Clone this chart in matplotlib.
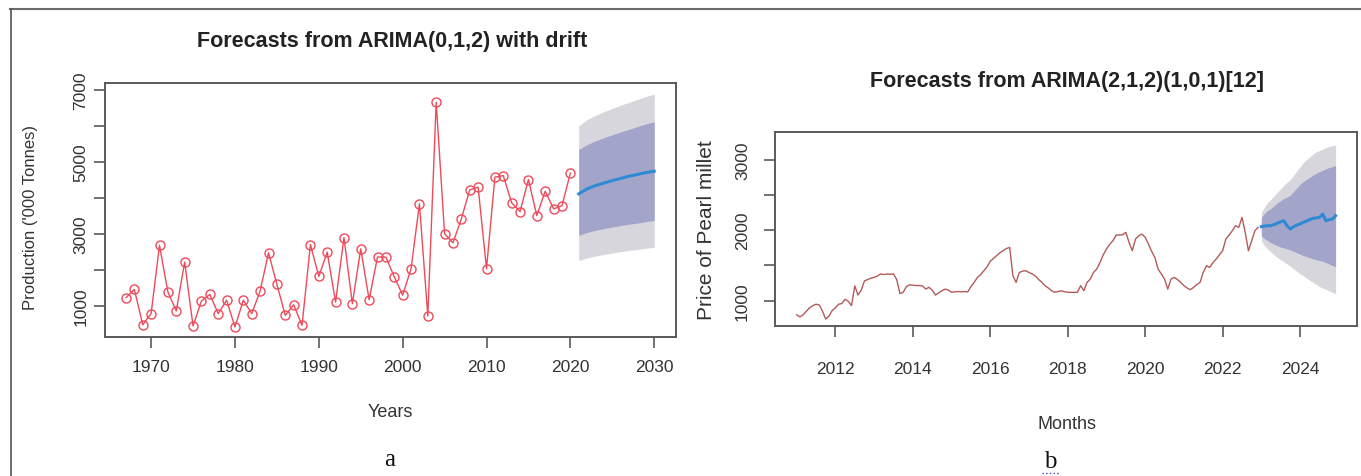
#!/usr/bin/env python3
"""Two ARIMA forecast panels: pearl millet production (a) and price (b)."""

import numpy as np
import matplotlib
matplotlib.use('Agg')
import matplotlib.pyplot as plt
from matplotlib.lines import Line2D

plt.rcParams['font.family'] = ['Liberation Sans', 'DejaVu Sans']

# ---- panel a: annual production ('000 tonnes), 1967-2020 ----
prod_years = list(range(1967, 2021))
production = [
    1230, 1460, 480, 790, 2680, 1390, 860, 2220, 445, 1140,
    1320, 790, 1160, 420, 1160, 790, 1415, 2476, 1600, 740,
    1036, 463, 2706, 1820, 2495, 1110, 2900, 1064, 2587, 1175,
    2357, 2357, 1810, 1300, 2033, 3834, 723, 6650, 3003, 2753,
    3418, 4222, 4296, 2033, 4573, 4618, 3862, 3620, 4507, 3510,
    4185, 3695, 3780, 4684,
]
fc_years = list(range(2021, 2031))
fc_prod_mean = [4110, 4250, 4340, 4410, 4480, 4540, 4600, 4650, 4700, 4740]
fc_prod_lo80 = [2960, 3040, 3100, 3150, 3190, 3230, 3270, 3300, 3340, 3370]
fc_prod_hi80 = [5340, 5480, 5580, 5670, 5750, 5830, 5900, 5980, 6050, 6110]
fc_prod_lo95 = [2260, 2330, 2390, 2430, 2470, 2510, 2540, 2570, 2600, 2630]
fc_prod_hi95 = [6000, 6170, 6290, 6390, 6480, 6570, 6650, 6730, 6810, 6880]

# ---- panel b: monthly price, Jan 2011 - Dec 2022 ----
price = [
    # 2011
    800, 770, 800, 850, 900, 930, 950, 940, 850, 740, 780, 860,
    # 2012
    900, 950, 960, 1020, 990, 930, 1210, 1080, 1150, 1280, 1300, 1320,
    # 2013
    1330, 1350, 1380, 1370, 1380, 1375, 1380, 1300, 1100, 1120, 1200, 1225,
    # 2014
    1220, 1215, 1215, 1210, 1165, 1190, 1150, 1080, 1110, 1140, 1165, 1150,
    # 2015
    1120, 1125, 1130, 1125, 1130, 1125, 1200, 1260, 1330, 1370, 1425, 1480,
    # 2016
    1560, 1600, 1640, 1680, 1710, 1740, 1756, 1354, 1260, 1400, 1420, 1425,
    # 2017
    1400, 1380, 1350, 1300, 1260, 1210, 1180, 1140, 1120, 1130, 1140, 1128,
    # 2018
    1120, 1118, 1118, 1120, 1213, 1142, 1260, 1307, 1402, 1450, 1543, 1650,
    # 2019
    1733, 1800, 1851, 1931, 1931, 1935, 1969, 1827, 1709, 1875, 1920, 1945,
    # 2020
    1900, 1804, 1700, 1614, 1449, 1380, 1307, 1165, 1307, 1330, 1300, 1260,
    # 2021
    1213, 1180, 1156, 1189, 1230, 1260, 1402, 1496, 1473, 1540, 1591, 1650,
    # 2022
    1709, 1875, 1930, 1993, 2064, 2040, 2182, 1969, 1709, 1851, 1993, 2040,
]
price_start = 2011.0

# forecast Jan 2023 - Dec 2024
fc_price_mean = [2050, 2060, 2065, 2064, 2080, 2100, 2120, 2135, 2060, 2017, 2050, 2073,
                 2090, 2111, 2130, 2150, 2168, 2175, 2182, 2229, 2135, 2150, 2158, 2205]
fc_price_lo80 = [1920, 1880, 1850, 1820, 1800, 1780, 1760, 1750, 1735, 1720, 1700, 1680,
                 1660, 1640, 1625, 1610, 1595, 1580, 1570, 1560, 1540, 1520, 1500, 1480]
fc_price_hi80 = [2180, 2240, 2280, 2310, 2350, 2390, 2420, 2450, 2470, 2500, 2550, 2600,
                 2650, 2690, 2720, 2750, 2780, 2810, 2830, 2850, 2870, 2890, 2900, 2920]
fc_price_lo95 = [1850, 1780, 1730, 1690, 1650, 1610, 1580, 1550, 1520, 1490, 1450, 1420,
                 1380, 1355, 1320, 1290, 1260, 1230, 1200, 1180, 1160, 1140, 1120, 1100]
fc_price_hi95 = [2250, 2330, 2400, 2440, 2490, 2540, 2590, 2640, 2680, 2720, 2780, 2840,
                 2900, 2960, 3000, 3040, 3080, 3110, 3130, 3150, 3170, 3190, 3200, 3210]

# colours
red = '#ee4a5a'
hist_brown = '#b45a5a'
fc_blue = '#2f8ad6'
band80 = '#a2a5c9'
band95 = '#d6d6dc'
frame = '#5a5a5a'
txt = '#333333'

fig = plt.figure(figsize=(13.61, 4.77), dpi=100)
W, H = 1361, 477


def box(x0, y0, x1, y1):
    """pixel box (top-left origin) -> figure fraction rect"""
    return [x0 / W, 1 - y1 / H, (x1 - x0) / W, (y1 - y0) / H]


def style_axes(ax):
    for sp in ax.spines.values():
        sp.set_color(frame)
        sp.set_linewidth(1.4)
    ax.tick_params(axis='both', colors=frame, labelcolor=txt, length=8, width=1.2,
                   labelsize=12.5)


# outer frame of the original figure
fig.add_artist(Line2D([10 / W, 1.0], [1 - 10 / H, 1 - 10 / H], color='#6a6a6a', lw=1.5))
fig.add_artist(Line2D([11 / W, 11 / W], [0, 1 - 10 / H], color='#555555', lw=1.2))

# ---------------- panel a ----------------
ax1 = fig.add_axes(box(105, 83.5, 676, 338))
ax1.fill_between(fc_years, fc_prod_lo95, fc_prod_hi95, color=band95, lw=0)
ax1.fill_between(fc_years, fc_prod_lo80, fc_prod_hi80, color=band80, lw=0)
ax1.plot(fc_years, fc_prod_mean, color=fc_blue, lw=2.2)
ax1.plot(prod_years, production, color=red, lw=1.0, marker='o', ms=6.5,
         mfc='none', mec=red, mew=1.0)
ax1.set_xlim(1964.5, 2032.6)
ax1.set_ylim(140, 7200)
ax1.set_xticks(range(1970, 2031, 10))
ax1.set_yticks(range(1000, 7001, 1000))
ax1.set_yticklabels(['1000', '', '3000', '', '5000', '', '7000'], rotation=90, va='center')
style_axes(ax1)
ax1.tick_params(axis='x', pad=8)
ax1.tick_params(axis='y', pad=4)

fig.text(392 / W, 1 - 42 / H, 'Forecasts from ARIMA(0,1,2) with drift', ha='center',
         va='center', fontsize=15.5, fontweight='bold', color='#222222')
fig.text(30 / W, 1 - 218 / H, "Production ('000 Tonnes)", rotation=90, ha='center',
         va='center', fontsize=12, color=txt)
fig.text(390 / W, 1 - 413 / H, 'Years', ha='center', va='center', fontsize=13, color=txt)
fig.text(390 / W, 1 - 460 / H, 'a', ha='center', va='center', fontsize=18,
         family=['Liberation Serif', 'DejaVu Serif'], color='#111111')

# ---------------- panel b ----------------
t_hist = price_start + np.arange(len(price)) / 12.0
t_fc = t_hist[-1] + (1 + np.arange(len(fc_price_mean))) / 12.0

ax2 = fig.add_axes(box(775, 133.3, 1357, 327))
ax2.fill_between(t_fc, fc_price_lo95, fc_price_hi95, color=band95, lw=0)
ax2.fill_between(t_fc, fc_price_lo80, fc_price_hi80, color=band80, lw=0)
ax2.plot(t_hist, price, color=hist_brown, lw=1.0)
ax2.plot(t_fc, fc_price_mean, color=fc_blue, lw=2.2)
ax2.set_xlim(2010.44, 2025.47)
ax2.set_ylim(641, 3389)
ax2.set_xticks(range(2012, 2025, 2))
ax2.set_yticks(range(1000, 3001, 500))
ax2.set_yticklabels(['1000', '', '2000', '', '3000'], rotation=90, va='center')
style_axes(ax2)
ax2.tick_params(axis='x', pad=17)
ax2.tick_params(axis='y', pad=10)

fig.text(1067 / W, 1 - 82 / H, 'Forecasts from ARIMA(2,1,2)(1,0,1)[12]', ha='center',
         va='center', fontsize=15.5, fontweight='bold', color='#222222')
fig.text(706 / W, 1 - 230 / H, 'Price of Pearl millet', rotation=90, ha='center',
         va='center', fontsize=15, color=txt)
fig.text(1067 / W, 1 - 425 / H, 'Months', ha='center', va='center', fontsize=13, color=txt)
fig.text(1050 / W, 1 - 462 / H, 'b', ha='center', va='center', fontsize=18,
         family=['Liberation Serif', 'DejaVu Serif'], color='#111111')
fig.add_artist(Line2D([1042 / W, 1060 / W], [1 - 474 / H, 1 - 474 / H], color='#3a4ad0',
                      lw=1.0, ls=':'))

fig.savefig('out.png', dpi=100)
print("Saved out.png")
